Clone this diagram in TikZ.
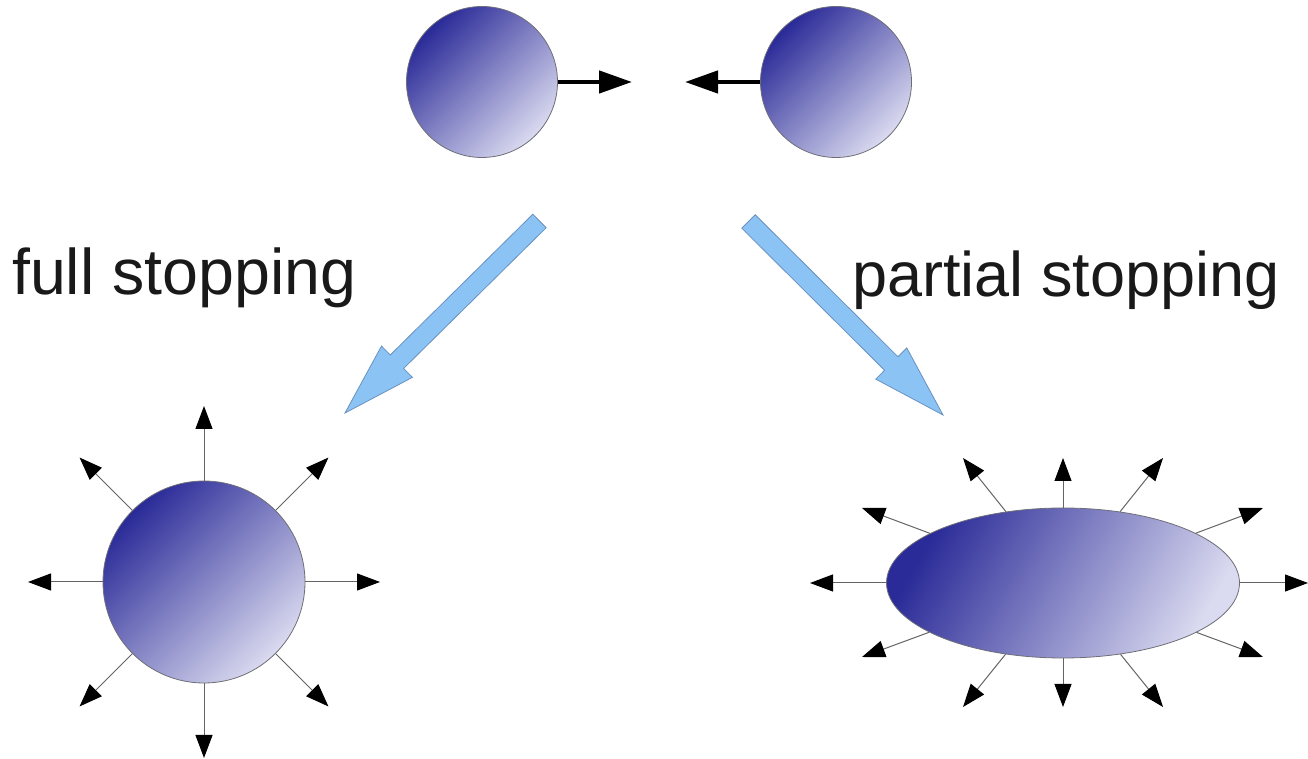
\documentclass[tikz,border=0pt]{standalone}
\usepackage{fontspec}
\setmainfont{Liberation Sans}
\usetikzlibrary{arrows.meta,shapes.geometric,calc}
\definecolor{balldark}{RGB}{42,42,152}
\definecolor{balllight}{RGB}{218,218,240}
\definecolor{rim}{RGB}{110,110,120}
\definecolor{rayline}{RGB}{100,100,100}
\definecolor{bigfill}{RGB}{140,195,245}
\definecolor{bigrim}{RGB}{105,145,190}
\definecolor{txt}{RGB}{25,25,25}
\begin{document}
\begin{tikzpicture}[x=1pt,y=1pt,
  ballshade/.style={inner sep=0pt, draw=rim, line width=0.8pt, shade,
    top color=balldark, bottom color=balllight, shading angle=45},
  ball/.style={ballshade, circle},
  push/.style={line width=4.5pt, -{Triangle[length=33pt,width=22pt]}},
  ray/.style={draw=rayline, line width=1pt, -{Triangle[length=23pt,width=17pt,color=black]}},
  bigarrow/.style={fill=bigfill, draw=bigrim, line width=0.8pt, line join=miter},
  lbl/.style={inner sep=0pt, text=txt}
]
\useasboundingbox (0,0) rectangle (1308,759);

% top colliding spheres
\node[ball, minimum size=151pt] (ta) at (482,677) {};
\node[ball, minimum size=151pt] (tb) at (836,677) {};
\coordinate (tap) at (632,677);
\coordinate (tbp) at (685,677);
\draw[push] (ta.east) -- (tap);
\draw[push] (tb.west) -- (tbp);

% big blue arrows
\coordinate (lt) at (539.5,538);
\coordinate (lp) at (345,346);
\coordinate (lb) at ($(lp)!73pt!(lt)$);
\draw[bigarrow] ($(lt)!9.5pt!90:(lp)$) -- ($(lb)!9.5pt!90:(lp)$) -- ($(lb)!22pt!90:(lp)$)
  -- (lp) -- ($(lb)!22pt!-90:(lp)$) -- ($(lb)!9.5pt!-90:(lp)$) -- ($(lt)!9.5pt!-90:(lp)$) -- cycle;

\coordinate (rt) at (748.5,537.5);
\coordinate (rp) at (943,344);
\coordinate (rb) at ($(rp)!73pt!(rt)$);
\draw[bigarrow] ($(rt)!9.5pt!90:(rp)$) -- ($(rb)!9.5pt!90:(rp)$) -- ($(rb)!22pt!90:(rp)$)
  -- (rp) -- ($(rb)!22pt!-90:(rp)$) -- ($(rb)!9.5pt!-90:(rp)$) -- ($(rt)!9.5pt!-90:(rp)$) -- cycle;

% labels
\node[lbl, anchor=base west, font=\fontsize{64.5}{72}\selectfont] (full) at (12,464) {full stopping};
\node[lbl, anchor=base west, font=\fontsize{63}{72}\selectfont] (partial) at (852,462) {partial stopping};

% full stopping: sphere with rays
\node[ball, minimum size=202pt] (fc) at (204,177) {};
\foreach \a in {0,45,...,315} {
  \coordinate (fr\a) at ($(fc)+(\a:176)$);
  \draw[ray] (fc.\a) -- (fr\a);
}

% partial stopping: ellipsoid with rays
\node[ballshade, ellipse, minimum width=353pt, minimum height=150pt, shading angle=60] (el) at (1063,176) {};
\foreach \tx/\ty [count=\i] in {810/176, 862/251, 963/301, 1063/301, 1163/301, 1263/251,
    1308/176, 1263/102, 1163/52, 1063/52, 963/52, 862/102} {
  \coordinate (er\i) at (\tx,\ty);
  \draw[ray] (el) -- (er\i);
}
\end{tikzpicture}
\end{document}
